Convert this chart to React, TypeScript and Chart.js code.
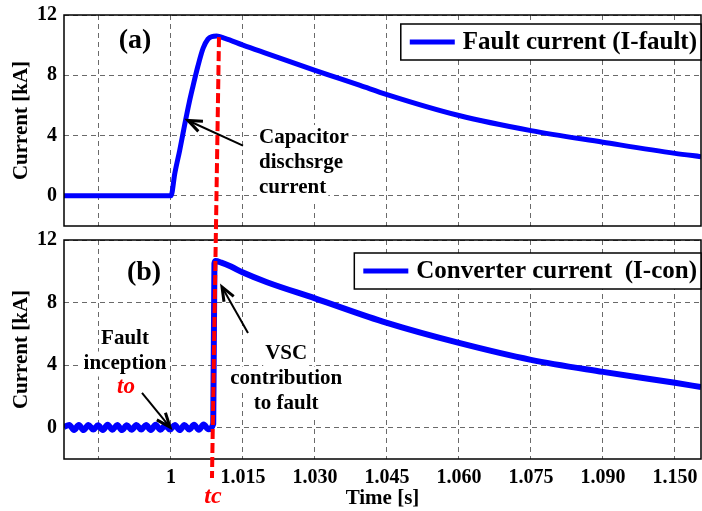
import React, { useEffect, useRef } from "react";
import { Chart, registerables } from "chart.js";
Chart.register(...registerables);

const FONT = "'Liberation Serif', 'Times New Roman', serif";
const BLUE = "#0000ff";
const RED = "#ff0000";
const GRID = "#6a6a6a";

// axis ranges / ticks
const X_MIN = 0.97771;
const X_MAX = 1.11042;
const Y_MIN = -2;
const Y_MAX = 12;
const xTickValues = [0.985, 1.0, 1.015, 1.03, 1.045, 1.06, 1.075, 1.09, 1.105];
const xTickLabels = ["", "1", "1.015", "1.030", "1.045", "1.060", "1.075", "1.090", "1.150"];
const yTickValues = [0, 4, 8, 12];

// (a) fault current
const timeFault = [0.97771, 1.0, 1.0008, 1.0018, 1.0029, 1.0038, 1.0046, 1.0056, 1.0067, 1.0077, 1.0085, 1.0095, 1.01125, 1.015, 1.02, 1.03, 1.0352, 1.0394, 1.045, 1.06, 1.075, 1.09, 1.105, 1.11042];
const faultCurrent = [0, 0, 1.5, 3.0, 4.8, 6.2, 7.3, 8.6, 9.8, 10.4, 10.57, 10.6, 10.45, 10.0, 9.44, 8.33, 7.78, 7.33, 6.72, 5.33, 4.33, 3.56, 2.82, 2.6];

// (b) converter current
const timeConverter = [
  0.97771, 0.9788, 0.9798, 0.9808, 0.9818, 0.9828, 0.9838, 0.9848, 0.9858, 0.9868, 0.9878,
  0.9888, 0.9898, 0.9908, 0.9918, 0.9928, 0.9938, 0.9948, 0.9958, 0.9968, 0.9978,
  0.9988, 0.9998, 1.0008, 1.0018, 1.0028, 1.0038, 1.0048, 1.0058, 1.0068, 1.0078,
  1.0088, 1.00905, 1.0093, 1.0105, 1.0125, 1.015, 1.02, 1.03, 1.045, 1.06, 1.075, 1.09, 1.105, 1.11042,
];
const converterCurrent = [
  0.05, 0.18, -0.14, 0.17, -0.15, 0.18, -0.12, 0.16, -0.15, 0.19, -0.13,
  0.17, -0.15, 0.16, -0.13, 0.18, -0.12, 0.17, -0.14, 0.19, -0.13,
  0.16, -0.12, 0.18, -0.15, 0.17, -0.12, 0.19, -0.13, 0.21, -0.1,
  0.25, 10.5, 10.65, 10.55, 10.3, 9.92, 9.3, 8.27, 6.7, 5.42, 4.34, 3.57, 2.87, 2.6,
];

// tc marker line (time, current) end points in each panel
const tcLineTop = [[1.01, 10.53], [1.00935, -2.53]];
const tcLineBottom = [[1.00935, 12.45], [1.00854, -3.22]];

type Note = { lines: string[]; t: number; v: number; align: CanvasTextAlign; color: string; size: number; italic?: boolean; spacing?: number; bg?: boolean };
type Arrow = { from: number[]; to: number[] };

const topNotes: Note[] = [
  { lines: ["(a)"], t: 0.9925, v: 10.27, align: "center", color: "#000", size: 28 },
  { lines: ["Capacitor", "dischsrge", "current"], t: 1.01833, v: 3.87, align: "left", color: "#000", size: 21, spacing: 25, bg: true },
];
const topArrows: Arrow[] = [{ from: [1.015, 3.33], to: [1.00354, 5.0] }];

const bottomNotes: Note[] = [
  { lines: ["(b)"], t: 0.99438, v: 9.89, align: "center", color: "#000", size: 28 },
  { lines: ["Fault", "inception"], t: 0.99042, v: 5.67, align: "center", color: "#000", size: 21, spacing: 25, bg: true },
  { lines: ["to"], t: 0.99063, v: 2.6, align: "center", color: RED, size: 23, italic: true },
  { lines: ["VSC", "contribution", "to fault"], t: 1.024, v: 4.71, align: "center", color: "#000", size: 21, spacing: 25, bg: true },
  { lines: ["tc"], t: 1.00875, v: -4.43, align: "center", color: RED, size: 24, italic: true },
];
const bottomArrows: Arrow[] = [
  { from: [0.99396, 2.22], to: [0.99979, 0.04] },
  { from: [1.01604, 6.05], to: [1.01063, 9.0] },
];

function overlay(notes: Note[], arrows: Arrow[], tcLine: number[][], legendOffset: number) {
  return {
    id: "overlay",
    afterDraw(chart: any) {
      const { ctx, chartArea } = chart;
      const xs = chart.scales.x;
      const ys = chart.scales.y;
      const P = (t: number, v: number) => [xs.getPixelForValue(t), ys.getPixelForValue(v)];
      ctx.save();
      // frame
      ctx.strokeStyle = "#000";
      ctx.lineWidth = 1.5;
      ctx.setLineDash([]);
      ctx.strokeRect(chartArea.left, chartArea.top, chartArea.right - chartArea.left, chartArea.bottom - chartArea.top);
      // tc line
      const a = P(tcLine[0][0], tcLine[0][1]);
      const b = P(tcLine[1][0], tcLine[1][1]);
      ctx.strokeStyle = RED;
      ctx.lineWidth = 4;
      ctx.setLineDash([10, 4]);
      ctx.beginPath();
      ctx.moveTo(a[0], a[1]);
      ctx.lineTo(b[0], b[1]);
      ctx.stroke();
      ctx.setLineDash([]);
      // legend
      const label = chart.data.datasets[0].label;
      ctx.font = `bold 25px ${FONT}`;
      const tw = ctx.measureText(label).width;
      const boxH = 36;
      const boxTop = chartArea.top + legendOffset;
      const boxW = 9 + 45 + 8 + tw + 4;
      const boxL = chartArea.right - boxW;
      ctx.fillStyle = "#fff";
      ctx.fillRect(boxL, boxTop, boxW, boxH);
      ctx.strokeStyle = "#000";
      ctx.lineWidth = 1.5;
      ctx.strokeRect(boxL, boxTop, boxW, boxH);
      ctx.strokeStyle = BLUE;
      ctx.lineWidth = 5;
      ctx.beginPath();
      ctx.moveTo(boxL + 9, boxTop + boxH / 2);
      ctx.lineTo(boxL + 54, boxTop + boxH / 2);
      ctx.stroke();
      ctx.fillStyle = "#000";
      ctx.textAlign = "left";
      ctx.textBaseline = "middle";
      ctx.fillText(label, boxL + 62, boxTop + boxH / 2 + 1);
      // notes
      for (const n of notes) {
        const [x, y] = P(n.t, n.v);
        ctx.font = `${n.italic ? "italic " : ""}bold ${n.size}px ${FONT}`;
        ctx.textAlign = n.align;
        ctx.textBaseline = "middle";
        const sp = n.spacing || n.size;
        n.lines.forEach((line, i) => {
          const ly = y + i * sp;
          if (n.bg) {
            const w = ctx.measureText(line).width;
            const lx = n.align === "left" ? x : x - w / 2;
            ctx.fillStyle = "#fff";
            ctx.fillRect(lx - 2, ly - sp / 2, w + 4, sp);
          }
          ctx.fillStyle = n.color;
          ctx.fillText(line, x, ly);
        });
      }
      // arrows
      ctx.strokeStyle = "#000";
      ctx.fillStyle = "#000";
      for (const ar of arrows) {
        const [x1, y1] = P(ar.from[0], ar.from[1]);
        const [x2, y2] = P(ar.to[0], ar.to[1]);
        const ang = Math.atan2(y2 - y1, x2 - x1);
        ctx.lineWidth = 2;
        ctx.beginPath();
        ctx.moveTo(x1, y1);
        ctx.lineTo(x2, y2);
        ctx.stroke();
        ctx.lineWidth = 3;
        ctx.lineJoin = "miter";
        ctx.beginPath();
        ctx.moveTo(x2 - 15 * Math.cos(ang - 0.38), y2 - 15 * Math.sin(ang - 0.38));
        ctx.lineTo(x2, y2);
        ctx.lineTo(x2 - 15 * Math.cos(ang + 0.38), y2 - 15 * Math.sin(ang + 0.38));
        ctx.stroke();
      }
      ctx.restore();
    },
  };
}

function buildOptions(showX: boolean, padTop: number): any {
  const tickFont = { family: FONT, size: 20, weight: "bold" as const };
  return {
    responsive: false,
    animation: false,
    events: [],
    layout: { padding: { left: 0, right: 1, top: padTop, bottom: 0 } },
    plugins: { legend: { display: false }, tooltip: { enabled: false } },
    elements: { point: { radius: 0 } },
    scales: {
      x: {
        type: "linear",
        min: X_MIN,
        max: X_MAX,
        afterBuildTicks: (s: any) => {
          s.ticks = xTickValues.map((value) => ({ value }));
        },
        afterFit: (s: any) => {
          s.height = showX ? 52 : 7;
          s.paddingLeft = 0;
          s.paddingRight = 0;
        },
        grid: { color: GRID, lineWidth: 1, drawTicks: false },
        border: { display: false, dash: [5, 4] },
        ticks: {
          display: showX,
          autoSkip: false,
          maxRotation: 0,
          padding: 7,
          color: "#000",
          font: tickFont,
          callback: (_v: any, i: number) => xTickLabels[i],
        },
        title: {
          display: showX,
          text: "Time [s]",
          color: "#000",
          font: { family: FONT, size: 21, weight: "bold" },
          padding: { top: 0, bottom: 0 },
        },
      },
      y: {
        type: "linear",
        min: Y_MIN,
        max: Y_MAX,
        afterBuildTicks: (s: any) => {
          s.ticks = yTickValues.map((value) => ({ value }));
        },
        afterFit: (s: any) => {
          s.width = 64;
          s.paddingTop = 0;
          s.paddingBottom = 0;
        },
        grid: { color: GRID, lineWidth: 1, drawTicks: false },
        border: { display: false, dash: [5, 4] },
        ticks: { padding: 7, color: "#000", font: tickFont, callback: (v: any) => String(v) },
        title: {
          display: true,
          text: "Current [kA]",
          color: "#000",
          font: { family: FONT, size: 21, weight: "bold" },
          padding: { top: 9, bottom: 0 },
        },
      },
    },
  };
}

export default function App() {
  const topRef = useRef<HTMLCanvasElement>(null);
  const botRef = useRef<HTMLCanvasElement>(null);
  useEffect(() => {
    const top = new Chart(topRef.current!, {
      type: "line",
      data: {
        datasets: [
          {
            label: "Fault current (I-fault)",
            data: timeFault.map((t, i) => ({ x: t, y: faultCurrent[i] })),
            borderColor: BLUE,
            borderWidth: 5,
            pointRadius: 0,
            cubicInterpolationMode: "monotone",
          },
        ],
      },
      options: buildOptions(false, 15),
      plugins: [overlay(topNotes, topArrows, tcLineTop, 9)],
    } as any);
    const bot = new Chart(botRef.current!, {
      type: "line",
      data: {
        datasets: [
          {
            label: "Converter current  (I-con)",
            data: timeConverter.map((t, i) => ({ x: t, y: converterCurrent[i] })),
            borderColor: BLUE,
            borderWidth: 6,
            pointRadius: 0,
            cubicInterpolationMode: "monotone",
          },
        ],
      },
      options: buildOptions(true, 20),
      plugins: [overlay(bottomNotes, bottomArrows, tcLineBottom, 13)],
    } as any);
    return () => {
      top.destroy();
      bot.destroy();
    };
  }, []);
  return (
    <div style={{ position: "absolute", left: 0, top: 0, width: 702, height: 511, background: "#fff" }}>
      <canvas ref={topRef} width={702} height={233} style={{ position: "absolute", left: 0, top: 0, width: 702, height: 233 }} />
      <canvas ref={botRef} width={702} height={291} style={{ position: "absolute", left: 0, top: 220, width: 702, height: 291 }} />
    </div>
  );
}
